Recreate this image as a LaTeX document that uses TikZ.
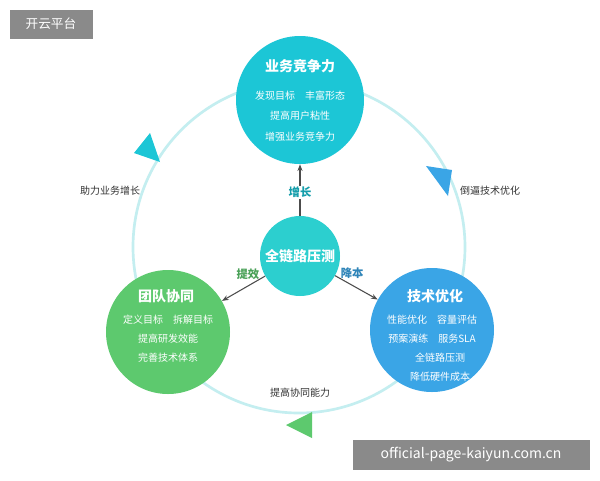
\documentclass[tikz,border=0pt]{standalone}
\usepackage{fontspec}
\setmainfont{Noto Sans CJK SC}
\usetikzlibrary{arrows.meta}
\definecolor{cy}{HTML}{1CC6D6}
\definecolor{cyc}{HTML}{2CCFCF}
\definecolor{gr}{HTML}{5DC96E}
\definecolor{bl}{HTML}{3AA5E6}
\definecolor{ring}{HTML}{C4EEF0}
\definecolor{wm}{HTML}{8A8A8A}
\tikzset{
 bub/.style={circle,inner sep=0pt,minimum size=#1},
 ttl/.style={text=white,font=\fontsize{10.5}{12}\selectfont\bfseries},
 itm/.style={text=white,font=\fontsize{7.5}{9}\selectfont},
 lbl/.style={font=\fontsize{7.5}{9}\selectfont,text=black!80},
 arr/.style={-{Stealth[length=5pt]},thick,black!70},
}
\begin{document}
\begin{tikzpicture}[x=0.75pt,y=-0.75pt]
\useasboundingbox (0,0) rectangle (600,480);
\fill[white] (0,0) rectangle (600,480);
\draw[ring,line width=2pt] (299,247) circle[radius=166];
% triangles
\fill[cy] (134,153) -- (160,162) -- (150,133) -- cycle;
\fill[bl] (426,166) -- (452,170) -- (448,196) -- cycle;
\fill[gr] (286,425) -- (312,412) -- (312,438) -- cycle;
\node[bub=128pt*0.75,fill=cy] (top) at (300,100) {};
\node[bub=124pt*0.75,fill=gr] (lft) at (168,332) {};
\node[bub=124pt*0.75,fill=bl] (rgt) at (432,330) {};
\node[bub=80pt*0.75,fill=cyc] (mid) at (300,256) {};
\node[ttl] at (300,66) {业务竞争力};
\node[itm] at (300,96) {发现目标\quad 丰富形态};
\node[itm] at (300,116) {提高用户粘性};
\node[itm] at (300,137) {增强业务竞争力};
\node[ttl] (midt) at (300,256) {全链路压测};
\node[ttl] at (166,296) {团队协同};
\node[itm] at (168,320) {定义目标\quad 拆解目标};
\node[itm] at (168,339) {提高研发效能};
\node[itm] at (168,358) {完善技术体系};
\node[ttl] at (435,296) {技术优化};
\node[itm] at (432,320) {性能优化\quad 容量评估};
\node[itm] at (432,339) {预案演练\quad 服务SLA};
\node[itm] at (440,358) {全链路压测};
\node[itm] at (440,377) {降低硬件成本};
\draw[arr] (mid) -- (top) node[pos=0.45,fill=white,inner sep=1pt,font=\fontsize{8.5}{10}\selectfont\bfseries,text=cy!80!black] {增长};
\draw[arr] (mid) -- (lft) node[pos=0.4,above=1pt,font=\fontsize{8.5}{10}\selectfont\bfseries,text=gr!80!black] {提效};
\draw[arr] (mid) -- (rgt) node[pos=0.4,above=1pt,font=\fontsize{8.5}{10}\selectfont\bfseries,text=bl!80!black] {降本};
\node[lbl] at (110,191) {助力业务增长};
\node[lbl] at (490,191) {倒逼技术优化};
\node[lbl] at (300,393) {提高协同能力};
\fill[wm] (10,10) rectangle (93,39);
\node[text=white,font=\fontsize{9.5}{11}\selectfont] at (51,24) {开云平台};
\fill[wm] (353,440) rectangle (590,470);
\node[text=white,font=\fontsize{10.5}{12}\selectfont] at (471,455) {official-page-kaiyun.com.cn};
\end{tikzpicture}
\end{document}
